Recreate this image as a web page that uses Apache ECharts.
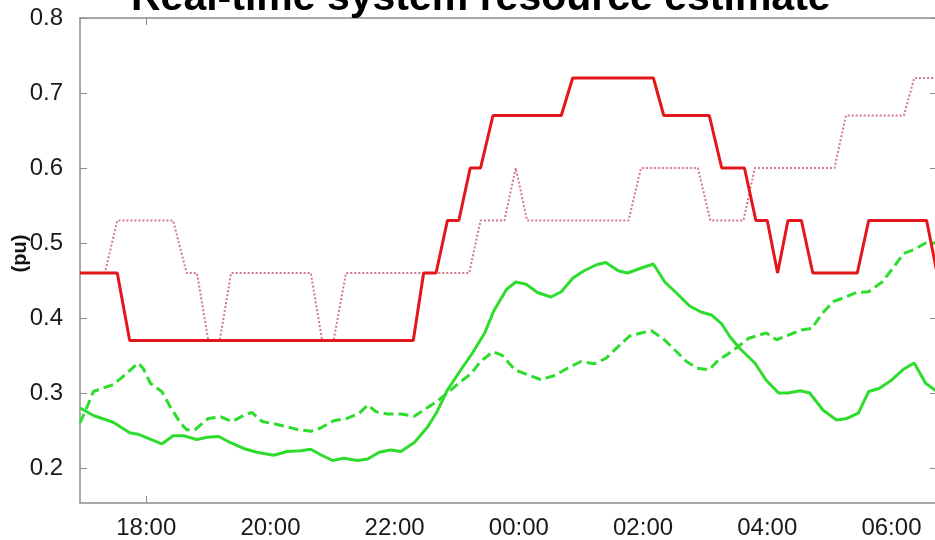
<!DOCTYPE html>
<html>
<head>
<meta charset="utf-8">
<script src="https://cdn.jsdelivr.net/npm/echarts@6/dist/echarts.min.js"></script>
<style>
  html, body { margin: 0; padding: 0; background: #fff; }
  #chart { width: 935px; height: 540px; }
</style>
</head>
<body>
<div id="chart"></div>
<script>
// Overnight estimate, 16:56 -> 06:44, values in per-unit
const titleText = 'Real-time system resource estimate';
const yName = '(pu)';
const yTicks = [0.2, 0.3, 0.4, 0.5, 0.6, 0.7, 0.8];
const xTickLabels = ['18:00', '20:00', '22:00', '00:00', '02:00', '04:00', '06:00'];

// Upper reserve estimate (solid red)
const upperActual = [
  ['16:56', 0.46], ['17:32', 0.46], ['17:44', 0.37], ['22:18', 0.37], ['22:28', 0.46],
  ['22:40', 0.46], ['22:51', 0.53], ['23:02', 0.53], ['23:13', 0.60], ['23:23', 0.60],
  ['23:35', 0.67], ['00:41', 0.67], ['00:52', 0.72], ['02:10', 0.72], ['02:20', 0.67],
  ['03:04', 0.67], ['03:16', 0.60], ['03:38', 0.60], ['03:49', 0.53], ['04:00', 0.53],
  ['04:10', 0.46], ['04:20', 0.53], ['04:33', 0.53], ['04:44', 0.46], ['05:27', 0.46],
  ['05:38', 0.53], ['06:34', 0.53], ['06:44', 0.46]
];

// Upper reserve forecast (dotted)
const upperForecast = [
  ['16:56', 0.46], ['17:20', 0.46], ['17:32', 0.53], ['18:26', 0.53], ['18:39', 0.46],
  ['18:49', 0.46], ['19:00', 0.37], ['19:11', 0.37], ['19:22', 0.46], ['20:39', 0.46],
  ['20:50', 0.37], ['21:01', 0.37], ['21:13', 0.46], ['23:12', 0.46], ['23:23', 0.53],
  ['23:46', 0.53], ['23:57', 0.60], ['00:08', 0.53], ['01:46', 0.53], ['01:58', 0.60],
  ['02:53', 0.60], ['03:05', 0.53], ['03:37', 0.53], ['03:48', 0.60], ['05:05', 0.60],
  ['05:16', 0.67], ['06:12', 0.67], ['06:22', 0.72], ['06:44', 0.72]
];

// Lower resource, measured (solid green)
const lowerActual = [
  ['16:56', 0.280], ['17:09', 0.270], ['17:28', 0.261], ['17:44', 0.247], ['17:52', 0.245],
  ['18:15', 0.232], ['18:26', 0.243], ['18:36', 0.243], ['18:49', 0.238], ['18:59', 0.241],
  ['19:10', 0.242], ['19:21', 0.234], ['19:34', 0.226], ['19:47', 0.221], ['20:03', 0.217],
  ['20:16', 0.222], ['20:29', 0.223], ['20:39', 0.225], ['20:48', 0.218], ['21:00', 0.210],
  ['21:11', 0.213], ['21:24', 0.210], ['21:34', 0.212], ['21:45', 0.221], ['21:56', 0.224],
  ['22:06', 0.222], ['22:19', 0.234], ['22:32', 0.255], ['22:41', 0.275], ['22:51', 0.304],
  ['23:04', 0.331], ['23:15', 0.353], ['23:27', 0.380], ['23:36', 0.410], ['23:48', 0.438],
  ['23:57', 0.448], ['00:07', 0.445], ['00:18', 0.434], ['00:31', 0.428], ['00:41', 0.435],
  ['00:52', 0.453], ['01:03', 0.463], ['01:15', 0.471], ['01:24', 0.474], ['01:36', 0.463],
  ['01:45', 0.460], ['01:57', 0.466], ['02:10', 0.472], ['02:21', 0.448], ['02:34', 0.431],
  ['02:45', 0.416], ['02:56', 0.408], ['03:06', 0.404], ['03:16', 0.392], ['03:24', 0.375],
  ['03:33', 0.360], ['03:48', 0.340], ['03:59', 0.317], ['04:11', 0.300], ['04:20', 0.300],
  ['04:32', 0.303], ['04:41', 0.300], ['04:54', 0.277], ['05:07', 0.264], ['05:17', 0.266],
  ['05:28', 0.273], ['05:38', 0.302], ['05:48', 0.306], ['06:00', 0.317], ['06:12', 0.332],
  ['06:22', 0.340], ['06:33', 0.313], ['06:44', 0.302]
];

// Lower resource, forecast (dashed green)
const lowerForecast = [
  ['16:56', 0.260], ['17:03', 0.282], ['17:09', 0.302], ['17:15', 0.305], ['17:28', 0.311],
  ['17:41', 0.326], ['17:52', 0.340], ['17:57', 0.333], ['18:04', 0.313], ['18:15', 0.302],
  ['18:23', 0.282], ['18:33', 0.260], ['18:39', 0.251], ['18:47', 0.251], ['19:00', 0.266],
  ['19:12', 0.268], ['19:23', 0.262], ['19:34', 0.270], ['19:42', 0.274], ['19:52', 0.262],
  ['20:03', 0.259], ['20:16', 0.255], ['20:27', 0.251], ['20:39', 0.249], ['20:48', 0.253],
  ['21:01', 0.263], ['21:14', 0.266], ['21:26', 0.273], ['21:34', 0.284], ['21:42', 0.275],
  ['21:53', 0.272], ['22:06', 0.272], ['22:19', 0.269], ['22:28', 0.277], ['22:41', 0.289],
  ['22:51', 0.300], ['23:02', 0.313], ['23:14', 0.326], ['23:23', 0.342], ['23:35', 0.355],
  ['23:44', 0.350], ['23:56', 0.331], ['00:09', 0.324], ['00:21', 0.318], ['00:34', 0.323],
  ['00:47', 0.333], ['01:00', 0.342], ['01:13', 0.339], ['01:24', 0.346], ['01:36', 0.362],
  ['01:47', 0.376], ['01:58', 0.380], ['02:08', 0.383], ['02:19', 0.373], ['02:31', 0.357],
  ['02:42', 0.342], ['02:52', 0.333], ['03:04', 0.331], ['03:13', 0.344], ['03:22', 0.352],
  ['03:32', 0.362], ['03:42', 0.373], ['03:59', 0.380], ['04:09', 0.371], ['04:20', 0.377],
  ['04:33', 0.384], ['04:43', 0.386], ['04:53', 0.406], ['05:04', 0.422], ['05:16', 0.428],
  ['05:26', 0.434], ['05:38', 0.435], ['05:51', 0.448], ['06:00', 0.464], ['06:12', 0.486],
  ['06:23', 0.492], ['06:33', 0.500], ['06:44', 0.500]
];

// clock string -> minutes on a continuous overnight scale (after midnight = +1440)
function toMin(s) {
  const [h, m] = s.split(':').map(Number);
  const v = h * 60 + m;
  return h < 12 ? v + 1440 : v;
}
function fmtMin(v) {
  const t = ((v % 1440) + 1440) % 1440;
  const h = Math.floor(t / 60), m = Math.round(t % 60);
  return String(h).padStart(2, '0') + ':' + String(m).padStart(2, '0');
}
const pts = arr => arr.map(([t, v]) => [toMin(t), v]);
const xTickValues = xTickLabels.map(toMin);

const X_MIN = toMin('16:56');
const X_MAX = toMin('06:44');
const Y_MIN = 0.1533;
const Y_MAX = 0.8;

const sans = '"Liberation Sans", Arial, sans-serif';
const axisGray = '#8c8c8c';

const chart = echarts.init(document.getElementById('chart'), null, { renderer: 'canvas' });
chart.setOption({
  animation: false,
  backgroundColor: '#ffffff',
  title: {
    text: titleText,
    left: 126,
    top: -27,
    textStyle: { fontFamily: sans, fontWeight: 'bold', fontSize: 41, color: '#000' }
  },
  grid: { left: 80, right: -2, top: 18, bottom: 37, outerBoundsMode: 'none', containLabel: false },
  xAxis: [{
    type: 'value',
    min: X_MIN,
    max: X_MAX,
    position: 'bottom',
    axisLine: { show: true, lineStyle: { color: axisGray, width: 1.5 } },
    axisTick: { show: true, inside: true, length: 7, customValues: [toMin('18:00')], lineStyle: { color: axisGray } },
    splitLine: { show: false },
    axisLabel: {
      customValues: xTickValues,
      formatter: v => fmtMin(v),
      fontFamily: sans,
      fontSize: 24,
      color: '#1a1a1a',
      margin: 13
    }
  }, {
    type: 'value',
    min: X_MIN,
    max: X_MAX,
    position: 'top',
    axisLine: { show: true, lineStyle: { color: axisGray, width: 1.5 } },
    axisTick: { show: true, inside: true, length: 7, customValues: [toMin('18:00')], lineStyle: { color: axisGray } },
    axisLabel: { show: false },
    splitLine: { show: false }
  }],
  yAxis: [{
    type: 'value',
    min: Y_MIN,
    max: Y_MAX,
    position: 'left',
    name: yName,
    nameLocation: 'middle',
    nameRotate: 90,
    nameGap: 50,
    nameMoveOverlap: false,
    nameTextStyle: { fontFamily: sans, fontWeight: 'bold', fontSize: 20, color: '#111', padding: [0, 0, 0, 14] },
    axisLine: { show: true, lineStyle: { color: axisGray, width: 1.5 } },
    axisTick: { show: true, inside: true, length: 7, customValues: yTicks, lineStyle: { color: axisGray } },
    splitLine: { show: false },
    axisLabel: {
      customValues: yTicks,
      formatter: v => v.toFixed(1),
      fontFamily: sans,
      fontSize: 24,
      color: '#1a1a1a',
      margin: 17
    }
  }, {
    type: 'value',
    min: Y_MIN,
    max: Y_MAX,
    position: 'right',
    axisLine: { show: true, lineStyle: { color: axisGray, width: 1.5 } },
    axisTick: { show: true, inside: true, length: 7, customValues: yTicks, lineStyle: { color: axisGray } },
    axisLabel: { show: false },
    splitLine: { show: false }
  }],
  series: [{
    name: 'lower forecast',
    type: 'line',
    data: pts(lowerForecast),
    showSymbol: false,
    lineStyle: { color: '#2ddc2d', width: 3, type: [10, 5] }
  }, {
    name: 'lower actual',
    type: 'line',
    data: pts(lowerActual),
    showSymbol: false,
    lineStyle: { color: '#2ddc2d', width: 3 }
  }, {
    name: 'upper forecast',
    type: 'line',
    data: pts(upperForecast),
    showSymbol: false,
    lineStyle: { color: '#d6768a', width: 2, type: [2, 2] }
  }, {
    name: 'upper actual',
    type: 'line',
    data: pts(upperActual),
    showSymbol: false,
    lineStyle: { color: '#e3161c', width: 3 }
  }]
});
</script>
</body>
</html>
